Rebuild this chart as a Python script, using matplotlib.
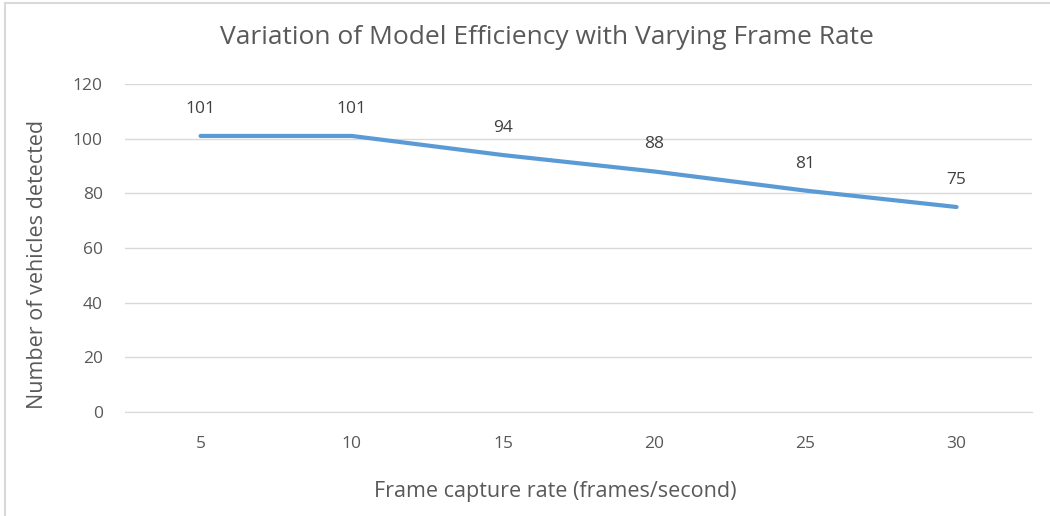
import matplotlib.pyplot as plt
from matplotlib.lines import Line2D

plt.rcParams['font.family'] = ['Open Sans', 'DejaVu Sans']

# Data
frame_rates = ['5', '10', '15', '20', '25', '30']
vehicles = [101, 101, 94, 88, 81, 75]
y_ticks = [0, 20, 40, 60, 80, 100, 120]

text_color = '#595959'
line_color = '#5B9BD5'
grid_color = '#D9D9D9'

fig = plt.figure(figsize=(10.5, 5.16), dpi=100)
ax = fig.add_axes([0.119, 0.2016, 0.864, 0.6356])

x = list(range(len(frame_rates)))
ax.plot(x, vehicles, color=line_color, linewidth=3, solid_capstyle='round')

# data labels above each point
for xi, v in zip(x, vehicles):
    ax.annotate(str(v), (xi, v), xytext=(0, 19.5), textcoords='offset points',
                ha='center', va='center', fontsize=12.5, color='#404040')

ax.set_xlim(-0.5, len(frame_rates) - 0.5)
ax.set_ylim(0, 120)
ax.set_xticks(x)
ax.set_xticklabels(frame_rates)
ax.set_yticks(y_ticks)
ax.grid(axis='y', color=grid_color, linewidth=1)
ax.set_axisbelow(True)
for s in ['top', 'right', 'left']:
    ax.spines[s].set_visible(False)
ax.spines['bottom'].set_color(grid_color)
ax.tick_params(axis='both', length=0, labelsize=12.5, colors=text_color)
ax.tick_params(axis='x', pad=17)
ax.tick_params(axis='y', pad=16)

fig.text(0.5286, 0.048, 'Frame capture rate (frames/second)', ha='center', va='center',
         fontsize=15.5, color=text_color)
fig.text(0.036, 0.488, 'Number of vehicles detected', ha='center', va='center',
         rotation=90, fontsize=15.5, color=text_color)
fig.text(0.521, 0.928, 'Variation of Model Efficiency with Varying Frame Rate',
         ha='center', va='center', fontsize=19, color=text_color)

# light chart border on the left and top
fig.add_artist(Line2D([0.005, 0.005], [0, 0.994], transform=fig.transFigure, color='#D9D9D9', lw=1.5))
fig.add_artist(Line2D([0.005, 1], [0.994, 0.994], transform=fig.transFigure, color='#D9D9D9', lw=1.5))

fig.savefig('out.png', dpi=100)
